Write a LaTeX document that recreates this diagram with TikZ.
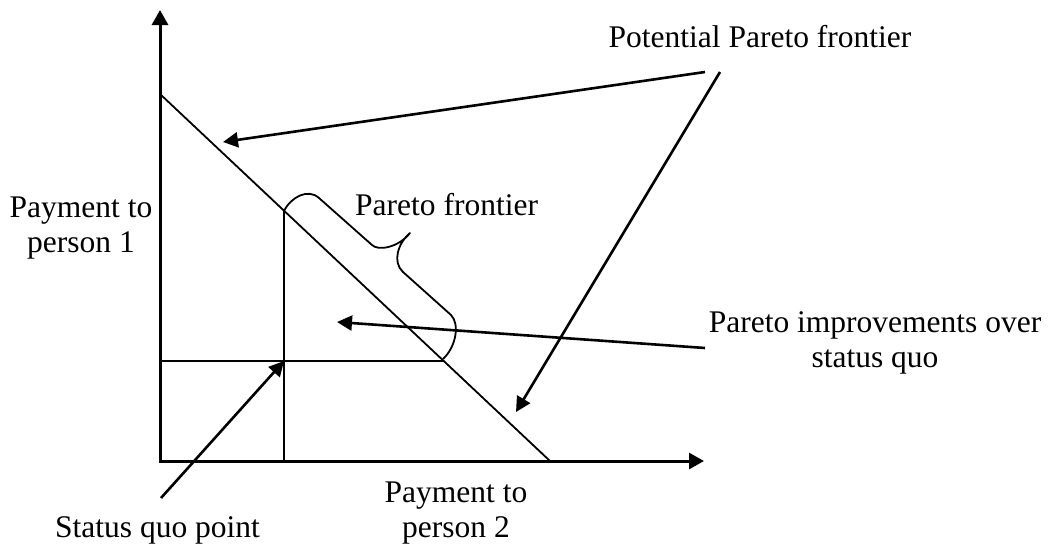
\documentclass[tikz,border=0pt]{standalone}
\usepackage{fontspec}
\setmainfont{Liberation Serif}
\usetikzlibrary{arrows.meta}
\begin{document}
\begin{tikzpicture}[x=1pt,y=-1pt,
  axis/.style={line width=3pt,{Triangle[length=15pt,width=16pt]}-{Triangle[length=15pt,width=16pt]}},
  thin line/.style={line width=1.8pt},
  pointer/.style={line width=2.6pt,-{Triangle[length=15pt,width=15pt]}},
  label/.style={font=\fontsize{31.5}{35}\selectfont,inner sep=0pt,align=center}]
\useasboundingbox (0,0) rectangle (1052,546);

% axes and frontier geometry
\coordinate (ytop) at (160,10);
\coordinate (O) at (160,461);
\coordinate (xend) at (704,461);
\coordinate (d1) at (160,94);
\coordinate (d2) at (550,461);
\coordinate (sqx) at (284,461);
\coordinate (sqtop) at (284,210.7);
\coordinate (sqy) at (160,361);
\coordinate (sqright) at (443.7,361);
\coordinate (sq) at (284,361);

\draw[axis] (ytop) -- (O) -- (xend);
\draw[thin line] (d1) -- (d2);
\draw[thin line] (sqx) -- (sqtop);
\draw[thin line] (sqy) -- (sqright);

% brace over the Pareto frontier segment
\draw[line width=1.8pt,line join=round]
  (284,211) .. controls (291,197) and (308,188) .. (319,198)
  -- (372,245) .. controls (378,251) and (398,248) .. (410,233)
  .. controls (398,243) and (392,262) .. (403,272)
  -- (451,315) .. controls (460,324) and (456,347) .. (443,359);

% labels (two-line labels are placed by the baseline of their last line)
\node[label,anchor=base] (ppf) at (760,47) {Potential Pareto frontier};
\node[label,anchor=base west] (pf) at (355,215) {Pareto frontier};
\node[label,anchor=base] (p1) at (81,252) {Payment to\\person 1};
\node[label,anchor=base] (p2) at (456,537) {Payment to\\person 2};
\node[label,anchor=base] (imp) at (875,367) {Pareto improvements over\\status quo};
\node[label,anchor=base] (sqp) at (157.5,537) {Status quo point};

% pointer arrows
\coordinate (ppfA) at (705,72);
\coordinate (ppfB) at (720,72);
\coordinate (ppfAtip) at (223,142);
\coordinate (ppfBtip) at (516,412);
\coordinate (impA) at (705,348);
\coordinate (imptip) at (337,322);
\coordinate (sqpA) at (161,498);

\draw[pointer] (ppfA) -- (ppfAtip);
\draw[pointer] (ppfB) -- (ppfBtip);
\draw[pointer] (impA) -- (imptip);
\draw[pointer] (sqpA) -- (sq);
\end{tikzpicture}
\end{document}
